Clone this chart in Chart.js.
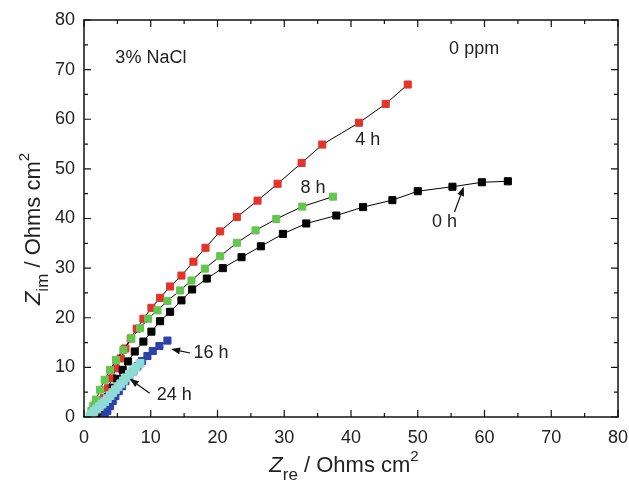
<!DOCTYPE html>
<html>
<head>
<meta charset="utf-8">
<script src="https://cdn.jsdelivr.net/npm/chart.js@4.4.1/dist/chart.umd.min.js"></script>
<style>
  body { margin: 0; background: #fff; }
  canvas { display: block; }
</style>
</head>
<body>
<canvas id="myChart" width="629" height="482"></canvas>
<script>
// Nyquist data, 3% NaCl, 0 ppm
const x0h = [2.5, 3.0, 3.6, 4.3, 5.0, 5.8, 6.6, 7.6, 8.9, 10.1, 11.4, 12.9, 14.6, 16.2, 18.4, 20.8, 23.6, 26.5, 29.8, 33.3, 37.8, 41.8, 46.2, 50.0, 55.2, 59.6, 63.5];
const y0h = [0.8, 2.4, 4.1, 5.9, 7.7, 9.5, 11.2, 13.2, 15.2, 17.2, 19.3, 21.2, 23.5, 25.7, 27.9, 30.0, 32.2, 34.4, 36.9, 39.0, 40.6, 42.3, 43.7, 45.5, 46.4, 47.3, 47.5];

const x4h = [1.8, 2.4, 3.0, 3.6, 4.2, 4.8, 5.5, 6.2, 7.0, 7.9, 8.9, 10.1, 11.4, 12.9, 14.6, 16.4, 18.2, 20.4, 22.9, 26.0, 29.0, 32.6, 35.7, 41.2, 45.2, 48.5];
const y4h = [0.2, 1.9, 3.8, 5.8, 7.8, 9.8, 11.8, 13.8, 15.8, 17.8, 19.8, 22.0, 24.0, 26.3, 28.5, 31.3, 34.1, 37.4, 40.3, 43.6, 47.0, 51.2, 54.9, 59.3, 63.1, 67.0];

const x8h = [0.9, 1.1, 1.4, 1.8, 2.4, 3.1, 3.9, 4.8, 5.9, 7.1, 8.4, 9.6, 11.0, 12.5, 14.4, 16.1, 18.1, 20.4, 22.9, 25.7, 28.8, 32.7, 37.3];
const y8h = [0.2, 1.2, 2.3, 3.5, 5.5, 7.5, 9.5, 11.5, 13.5, 15.9, 17.9, 19.8, 21.5, 23.4, 25.5, 27.5, 29.9, 32.4, 35.1, 37.6, 39.9, 42.4, 44.4];

const x16h = [3.1, 3.5, 3.9, 4.3, 4.7, 5.2, 5.7, 6.2, 6.8, 7.4, 8.0, 8.7, 9.5, 10.3, 11.3, 12.5];
const y16h = [0.2, 1.2, 2.2, 3.2, 4.2, 5.2, 6.2, 7.2, 8.2, 9.2, 10.2, 11.3, 12.3, 13.3, 14.3, 15.4];

const x24h = [0.9, 1.2, 1.5, 1.9, 2.3, 2.7, 3.1, 3.5, 3.9, 4.3, 4.7, 5.1, 5.5, 5.9, 6.3, 6.8, 7.3, 7.8, 8.4];
const y24h = [0.2, 0.6, 1.1, 1.6, 2.1, 2.6, 3.1, 3.7, 4.3, 4.9, 5.5, 6.1, 6.7, 7.3, 7.9, 8.6, 9.3, 10.0, 10.8];

const xTicks = [0, 10, 20, 30, 40, 50, 60, 70, 80];
const yTicks = [0, 10, 20, 30, 40, 50, 60, 70, 80];

// text labels in data units: [text, x, y, align]
const notes = [
    ["3% NaCl", 4.7, 72.4, "left"],
    ["0 ppm", 54.7, 74.2, "left"],
    ["4 h", 42.5, 55.9, "center"],
    ["8 h", 34.3, 46.2, "center"],
    ["0 h", 54.0, 39.2, "center"],
    ["16 h", 16.4, 12.9, "left"],
    ["24 h", 10.9, 4.4, "left"]
];
// arrows: from (x,y) to head (x,y)
const arrows = [
    [55.5, 41.3, 56.9, 46.4],
    [15.9, 12.9, 13.05, 13.7],
    [9.85, 4.8, 6.86, 7.66]
];

const FONT = "'Liberation Sans', Arial, Helvetica, sans-serif";
const TXT = "#222";

function pts(xs, ys) {
    return xs.map((x, i) => ({ x: x, y: ys[i] }));
}

function series(label, xs, ys, color, order, r) {
    return {
        label: label,
        data: pts(xs, ys),
        showLine: true,
        borderColor: "#000",
        borderWidth: 1,
        pointStyle: "rect",
        pointRadius: r || 5,
        pointBorderWidth: 1,
        pointBackgroundColor: color,
        pointBorderColor: color,
        order: order
    };
}

const frame = {
    id: "frame",
    afterDatasetsDraw(chart) {
        const c = chart.ctx;
        const a = chart.chartArea;
        const sx = chart.scales.x, sy = chart.scales.y;
        c.save();
        c.strokeStyle = "#111";
        c.lineWidth = 1.5;
        c.strokeRect(a.left, a.top, a.right - a.left, a.bottom - a.top);
        c.lineWidth = 1.2;
        c.beginPath();
        for (let v = 0; v <= 80; v += 5) {
            const len = v % 10 == 0 ? 7 : 4;
            const px = sx.getPixelForValue(v);
            c.moveTo(px, a.bottom); c.lineTo(px, a.bottom - len);
            c.moveTo(px, a.top); c.lineTo(px, a.top + len);
            const py = sy.getPixelForValue(v);
            c.moveTo(a.left, py); c.lineTo(a.left + len, py);
            c.moveTo(a.right, py); c.lineTo(a.right - len, py);
        }
        c.stroke();

        // notes
        c.fillStyle = TXT;
        c.font = "18px " + FONT;
        c.textBaseline = "middle";
        notes.forEach((n) => {
            c.textAlign = n[3];
            c.fillText(n[0], sx.getPixelForValue(n[1]), sy.getPixelForValue(n[2]));
        });

        // arrows
        c.strokeStyle = "#111";
        c.fillStyle = "#111";
        c.lineWidth = 1.2;
        arrows.forEach((ar) => {
            const x1 = sx.getPixelForValue(ar[0]), y1 = sy.getPixelForValue(ar[1]);
            const x2 = sx.getPixelForValue(ar[2]), y2 = sy.getPixelForValue(ar[3]);
            const ang = Math.atan2(y2 - y1, x2 - x1);
            const hl = 9, hw = 3.5;
            const bx = x2 - hl * Math.cos(ang), by = y2 - hl * Math.sin(ang);
            c.beginPath();
            c.moveTo(x1, y1); c.lineTo(bx, by);
            c.stroke();
            c.beginPath();
            c.moveTo(x2, y2);
            c.lineTo(bx + hw * Math.sin(ang), by - hw * Math.cos(ang));
            c.lineTo(bx - hw * Math.sin(ang), by + hw * Math.cos(ang));
            c.closePath();
            c.fill();
        });

        // axis titles
        drawTitle(c, "re", 344, 472, 0);
        drawTitle(c, "im", 40, 229, -Math.PI / 2);
        c.restore();
    }
};

function drawTitle(c, sub, cx, cy, rot) {
    const big = "22px " + FONT;
    const bigI = "italic 22px " + FONT;
    const small = "17px " + FONT;
    const sup = "15px " + FONT;
    const parts = [
        [bigI, "Z", 0],
        [small, sub, 8],
        [big, " / Ohms cm", 0],
        [sup, "2", -11]
    ];
    let w = 0;
    parts.forEach((p) => { c.font = p[0]; w += c.measureText(p[1]).width; });
    c.save();
    c.translate(cx, cy);
    c.rotate(rot);
    c.textAlign = "left";
    c.textBaseline = "alphabetic";
    c.fillStyle = TXT;
    let x = -w / 2;
    parts.forEach((p) => {
        c.font = p[0];
        c.fillText(p[1], x, p[2]);
        x += c.measureText(p[1]).width;
    });
    c.restore();
}

const ctx = document.getElementById("myChart");

new Chart(ctx, {
    type: "scatter",
    data: {
        datasets: [
            series("24 h", x24h, y24h, "#8fdcd5", 0, 5.5),
            series("16 h", x16h, y16h, "#2d41a8", 1),
            series("0 h", x0h, y0h, "#000000", 2),
            series("8 h", x8h, y8h, "#63c64f", 3),
            series("4 h", x4h, y4h, "#e3342b", 4)
        ]
    },
    options: {
        responsive: false,
        animation: false,
        layout: { padding: { top: 20, right: 11, left: 0, bottom: 0 } },
        plugins: {
            legend: { display: false },
            tooltip: { enabled: false }
        },
        scales: {
            x: {
                type: "linear",
                min: 0,
                max: 80,
                afterBuildTicks: (s) => { s.ticks = xTicks.map((v) => ({ value: v })); },
                ticks: { padding: 10, color: TXT, font: { size: 18, family: FONT } },
                grid: { display: false, drawTicks: false },
                border: { display: false },
                afterFit: (s) => { s.height = 65; s.paddingLeft = 0; s.paddingRight = 0; }
            },
            y: {
                type: "linear",
                min: 0,
                max: 80,
                afterBuildTicks: (s) => { s.ticks = yTicks.map((v) => ({ value: v })); },
                ticks: { padding: 9, color: TXT, font: { size: 18, family: FONT } },
                grid: { display: false, drawTicks: false },
                border: { display: false },
                afterFit: (s) => { s.width = 84; s.paddingTop = 0; s.paddingBottom = 0; }
            }
        }
    },
    plugins: [frame]
});
</script>
</body>
</html>
